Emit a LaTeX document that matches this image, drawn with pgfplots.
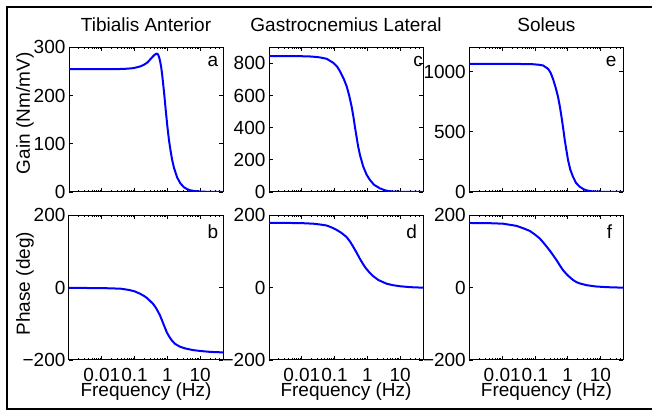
\documentclass[border=0pt]{standalone}
\usepackage{fontspec}
\setmainfont{Liberation Sans}
\usepackage{pgfplots}
\pgfplotsset{compat=1.18}
\pgfplotsset{
  bode/.style={
    scale only axis, width=77pt, height=72.3pt,
    xmin=0.001, xmax=50,
    xtick={0.01,0.1,1,10},
    minor xtick={0.002,0.003,0.004,0.005,0.006,0.007,0.008,0.009,0.02,0.03,0.04,0.05,0.06,0.07,0.08,0.09,0.2,0.3,0.4,0.5,0.6,0.7,0.8,0.9,2,3,4,5,6,7,8,9,20,30,40},
    tick align=inside, major tick length=2pt, minor tick length=1pt,
    tick style={black, line width=0.4pt},
    axis line style={line width=0.5pt},
    yticklabel style={inner xsep=1.6pt},
    xticklabel style={inner sep=0pt, yshift=-3.9pt},
    every axis plot/.append style={blue, line width=1pt, no marks},
    title style={at={(axis description cs:0.5,1)}, anchor=center, yshift=5.35pt},
    ylabel style={anchor=center},
    xlabel style={at={(axis description cs:0.5,0)}, anchor=center, inner sep=0pt, yshift=-15.8pt},
  },
  toprow/.style={bode, xticklabels={}},
  botrow/.style={bode, xticklabels={0.01,0.1,1,10}, ymin=-200, ymax=200,
    ytick={-200,0,200}, yticklabels={−200,0,200}, xlabel={Frequency (Hz)}},
}
\begin{document}
\fontsize{9.5}{11}\selectfont
\begin{tikzpicture}
\draw[line width=1pt] (330pt,201.75pt) -- (3.5pt,201.75pt) -- (3.5pt,0.75pt) -- (330pt,0.75pt);

% a
\begin{semilogxaxis}[toprow, at={(34.5pt,109.5pt)}, anchor=south west,
  ymin=0, ymax=300, ytick={0,100,200,300}, yticklabels={0,100,200,300},
  title={Tibialis Anterior}, ylabel={Gain (Nm/mV)},
  ylabel style={at={(axis description cs:-0.286,0.544)}}]
\addplot coordinates {(0.001,255) (0.01,255) (0.03,255) (0.05,255.5) (0.08,256.5) (0.1,257.5) (0.15,260.5) (0.2,264.5) (0.25,269) (0.3,275) (0.35,280) (0.4,284) (0.45,286.5) (0.48,287) (0.52,285.5) (0.56,280) (0.6,272) (0.65,259) (0.7,242) (0.75,223) (0.8,205) (0.9,168) (1.0,137) (1.12,108) (1.26,85) (1.4,67) (1.6,50) (2.0,30) (2.5,18) (3.2,10) (4,6) (5,3.5) (7,1.8) (10,0.9) (20,0.2) (50,0.03)};
\node at (rel axis cs:0.935,0.9) {a};
\end{semilogxaxis}

% c
\begin{semilogxaxis}[toprow, at={(134.5pt,109.5pt)}, anchor=south west,
  ymin=0, ymax=900, ytick={0,200,400,600,800}, yticklabels={0,200,400,600,800},
  title={Gastrocnemius Lateral}]
\addplot coordinates {(0.001,846) (0.01,845) (0.02,843) (0.035,838) (0.0575,829) (0.0912,804) (0.12,780) (0.146,752) (0.19,705) (0.234,658) (0.28,600) (0.331,533) (0.375,470) (0.417,408) (0.47,342) (0.525,283) (0.6,228) (0.75,158) (0.95,108) (1.2,75) (1.6,45) (2.4,23) (3.5,10) (4.9,4) (8,1.5) (15,0.4) (50,0)};
\node at (rel axis cs:0.968,0.9) {c};
\end{semilogxaxis}

% e
\begin{semilogxaxis}[toprow, at={(234.7pt,109.5pt)}, anchor=south west,
  ymin=0, ymax=1200, ytick={0,500,1000}, yticklabels={0,500,1000},
  title={Soleus}]
\addplot coordinates {(0.001,1063) (0.01,1063) (0.05,1062) (0.09,1060) (0.13,1056) (0.178,1050) (0.251,1022) (0.3,990) (0.355,939) (0.43,865) (0.507,788) (0.58,705) (0.646,623) (0.73,525) (0.813,430) (0.92,340) (1.023,264) (1.2,185) (1.445,127) (1.8,75) (2.32,44) (3,24) (3.72,14) (5,7) (7.4,3) (15,0.8) (50,0)};
\node at (rel axis cs:0.92,0.9) {e};
\end{semilogxaxis}

% b
\begin{semilogxaxis}[botrow, at={(34.5pt,25.5pt)}, anchor=south west,
  ylabel={Phase (deg)},
  ylabel style={at={(axis description cs:-0.286,0.528)}}]
\addplot coordinates {(0.001,-0.3) (0.005,-1) (0.01,-1.2) (0.02,-1.8) (0.04,-3) (0.07,-6.5) (0.1,-10) (0.15,-17) (0.2,-23.5) (0.25,-30) (0.3,-37) (0.37,-45) (0.45,-56) (0.52,-66) (0.6,-77) (0.68,-89) (0.75,-99) (0.85,-111) (0.95,-122) (1.1,-133) (1.35,-145) (1.7,-155) (2.4,-163) (3.5,-168) (6,-172.5) (10,-175) (20,-177.5) (50,-179)};
\node at (rel axis cs:0.935,0.885) {b};
\end{semilogxaxis}

% d
\begin{semilogxaxis}[botrow, at={(134.5pt,25.5pt)}, anchor=south west]
\addplot coordinates {(0.001,179) (0.004,179) (0.009,178.8) (0.0224,177) (0.035,175) (0.0575,172) (0.08,167) (0.115,160) (0.16,152) (0.234,140) (0.3,127) (0.372,113) (0.47,97) (0.594,80) (0.7,69) (0.85,57) (1.1,44.5) (1.51,32) (2.2,21) (3.9,11) (6,7) (10,4) (20,1.5) (50,0)};
\node at (rel axis cs:0.927,0.885) {d};
\end{semilogxaxis}

% f
\begin{semilogxaxis}[botrow, at={(234.7pt,25.5pt)}, anchor=south west]
\addplot coordinates {(0.001,179) (0.004,178.5) (0.0107,177) (0.0275,171) (0.045,164) (0.07,157) (0.1,147) (0.141,136) (0.2,120) (0.282,103) (0.37,88) (0.457,76) (0.58,61) (0.724,48) (1.0,34) (1.445,21.5) (1.8,16) (2.2,12.5) (3.72,7) (7,3.5) (15,1.5) (50,0)};
\node at (rel axis cs:0.91,0.885) {f};
\end{semilogxaxis}
\pgfresetboundingbox
\path[use as bounding box] (0,0) rectangle (326pt,205.5pt);
\end{tikzpicture}
\end{document}
